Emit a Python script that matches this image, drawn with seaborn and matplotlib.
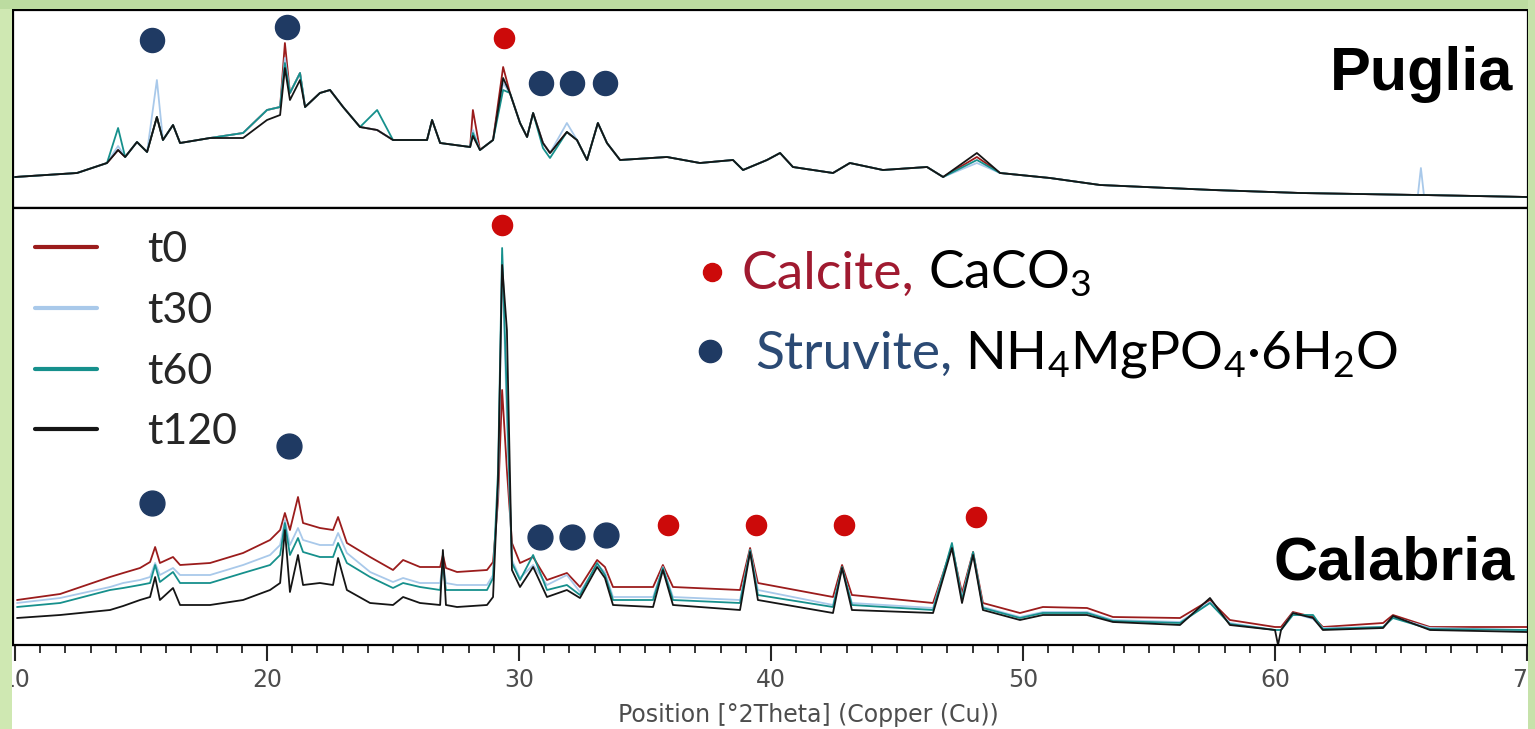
import numpy as np
import pandas as pd
import matplotlib.pyplot as plt
import seaborn as sns
from matplotlib.patches import Rectangle
from matplotlib.lines import Line2D

# ---- data (intensity in arbitrary units) ----
series = ['t0', 't30', 't60', 't120']
colors = {'t0': '#9b1c1c', 't30': '#a9c9ea', 't60': '#16908c', 't120': '#151515'}

# Puglia (top panel)
pug_2theta = [10.0, 12.46, 13.65, 14.09, 14.37, 14.84, 15.24, 15.63, 15.87, 16.27,
              16.55, 17.74, 19.05, 20.0, 20.52, 20.71, 20.91, 21.31, 21.51, 22.10,
              22.50, 23.02, 23.69, 24.37, 25.0, 26.35, 26.55, 26.87, 28.06, 28.17,
              28.45, 28.97, 29.37, 29.64, 30.04, 30.32, 30.56, 30.95, 31.23, 31.90,
              32.30, 32.70, 33.13, 33.49, 34.01, 35.87, 37.18, 38.49, 38.89, 39.84,
              40.36, 40.87, 42.46, 43.13, 44.44, 46.19, 46.83, 48.17, 49.09, 51.07,
              53.06, 57.54, 61.0, 65.67, 65.79, 65.91, 70.0]
pug_t0 = [31, 35, 45, 58, 51, 66, 56, 91, 68, 83,
          65, 70, 75, 98, 101, 165, 115, 135, 101, 115,
          118, 101, 81, 78, 68, 68, 88, 65, 61, 98,
          58, 68, 141, 115, 85, 71, 95, 65, 55, 76,
          68, 48, 85, 65, 48, 51, 45, 48, 38, 48,
          55, 41, 35, 45, 38, 41, 31, 51, 35, 30,
          23, 18, 15, 13, 13, 13, 11]
pug_t30 = [31, 35, 45, 62, 51, 66, 56, 128, 68, 83,
           65, 70, 75, 98, 101, 150, 115, 135, 101, 115,
           118, 101, 81, 78, 68, 68, 88, 65, 61, 78,
           58, 68, 125, 115, 85, 71, 95, 65, 55, 85,
           68, 48, 85, 65, 48, 51, 45, 48, 38, 48,
           55, 41, 35, 45, 38, 41, 31, 45, 35, 30,
           23, 18, 15, 13, 40, 13, 11]
pug_t60 = [31, 35, 45, 80, 51, 66, 56, 91, 68, 83,
           65, 70, 75, 98, 101, 145, 115, 135, 101, 115,
           118, 101, 81, 98, 68, 68, 88, 65, 61, 75,
           58, 68, 118, 115, 85, 71, 95, 60, 50, 76,
           68, 48, 85, 65, 48, 51, 45, 48, 38, 48,
           55, 41, 35, 45, 38, 41, 31, 48, 35, 30,
           23, 18, 15, 13, 13, 13, 11]
pug_t120 = [31, 35, 45, 58, 51, 66, 56, 91, 68, 83,
            65, 70, 70, 88, 93, 140, 108, 128, 101, 115,
            118, 101, 81, 78, 68, 68, 88, 65, 61, 72,
            58, 68, 130, 115, 85, 71, 95, 65, 55, 76,
            68, 48, 85, 65, 48, 51, 45, 48, 38, 48,
            55, 41, 35, 45, 38, 41, 31, 55, 35, 30,
            23, 18, 15, 13, 13, 13, 11]

# Calabria (bottom panel)
cal_2theta = [10.08, 11.79, 13.77, 14.29, 14.96, 15.36, 15.56, 15.75, 16.27, 16.55,
              17.74, 19.05, 20.12, 20.52, 20.71, 20.91, 21.23, 21.43, 22.10, 22.62,
              22.82, 23.17, 24.09, 25.00, 25.40, 26.07, 26.87, 26.98, 27.10, 27.54,
              28.73, 28.97, 29.17, 29.33, 29.52, 29.72, 30.04, 30.56, 31.11, 31.90,
              32.42, 33.10, 33.41, 33.73, 35.32, 35.71, 36.11, 38.77, 39.17, 39.48,
              42.46, 42.82, 43.21, 46.43, 47.18, 47.58, 48.02, 48.41, 49.88, 50.79,
              52.54, 53.57, 56.23, 57.42, 58.21, 60.00, 60.12, 60.24, 60.71, 61.51,
              61.90, 64.29, 64.68, 66.15, 70.00]
cal_t0 = [45, 51, 68, 72, 77, 83, 98, 82, 88, 80,
          82, 92, 105, 115, 132, 115, 148, 122, 117, 115,
          128, 102, 88, 75, 85, 78, 78, 90, 77, 73,
          75, 83, 145, 255, 175, 102, 82, 88, 65, 72,
          58, 85, 78, 58, 58, 80, 58, 55, 97, 62,
          48, 80, 50, 42, 98, 52, 93, 42, 32, 38,
          37, 28, 27, 45, 25, 18, 18, 18, 33, 28,
          18, 22, 30, 18, 18]
cal_t30 = [42, 47, 58, 62, 65, 68, 82, 70, 77, 70,
           70, 80, 90, 100, 125, 100, 117, 105, 100, 100,
           112, 92, 73, 63, 67, 62, 62, 83, 62, 60,
           60, 70, 155, 390, 225, 85, 67, 80, 60, 70,
           53, 80, 73, 48, 48, 78, 48, 45, 95, 55,
           40, 77, 42, 37, 100, 47, 92, 38, 28, 33,
           33, 25, 23, 43, 22, 15, 15, 15, 32, 26,
           17, 18, 28, 17, 15]
cal_t60 = [38, 42, 55, 57, 60, 62, 80, 63, 73, 62,
           62, 72, 80, 90, 122, 90, 107, 93, 88, 88,
           102, 82, 68, 57, 62, 58, 55, 80, 55, 55,
           55, 67, 175, 397, 245, 82, 65, 90, 55, 60,
           50, 82, 70, 45, 45, 77, 45, 42, 95, 50,
           38, 78, 40, 35, 102, 45, 93, 37, 27, 32,
           32, 24, 22, 42, 21, 15, 15, 15, 30, 30,
           16, 18, 27, 16, 15]
cal_t120 = [27, 30, 35, 39, 45, 48, 68, 45, 57, 40,
            40, 45, 55, 62, 115, 53, 90, 60, 62, 60,
            87, 55, 42, 40, 48, 42, 40, 95, 40, 38,
            40, 48, 165, 380, 315, 75, 58, 78, 48, 55,
            47, 78, 67, 40, 38, 75, 40, 35, 93, 45,
            32, 77, 35, 32, 97, 42, 90, 35, 25, 30,
            30, 23, 20, 47, 20, 15, 0, 15, 32, 27,
            15, 17, 29, 15, 13]

# phase markers (position, height)
pug_struvite_x = [15.44, 20.79, 30.87, 32.10, 33.41]
pug_struvite_y = [168, 181, 125, 125, 125]
pug_calcite_x = [29.40]
pug_calcite_y = [170]
cal_struvite_x = [15.44, 20.87, 30.83, 32.10, 33.45]
cal_struvite_y = [142, 199, 108, 108, 110]
cal_calcite_x = [29.33, 35.91, 39.40, 42.90, 48.13]
cal_calcite_y = [420, 120, 120, 120, 128]


def long_frame(x, curves):
    parts = [pd.DataFrame({'pos': x, 'intensity': v, 'sample': k}) for k, v in curves.items()]
    return pd.concat(parts, ignore_index=True)


pug = long_frame(pug_2theta, {'t0': pug_t0, 't30': pug_t30, 't60': pug_t60, 't120': pug_t120})
cal = long_frame(cal_2theta, {'t0': cal_t0, 't30': cal_t30, 't60': cal_t60, 't120': cal_t120})

sns.set_style('white')
plt.rcParams['mathtext.fontset'] = 'custom'
plt.rcParams['mathtext.rm'] = 'Lato'
plt.rcParams['mathtext.it'] = 'Lato:italic'

W, H = 1535, 729
fig = plt.figure(figsize=(W / 100, H / 100), dpi=100)
ax_top = fig.add_axes([13 / W, 1 - 208 / H, (1528 - 13) / W, 198 / H])
ax_bot = fig.add_axes([13 / W, 1 - 645 / H, (1528 - 13) / W, 437 / H], sharex=ax_top)

navy = '#1f3a63'
red_dot = '#cc0a0a'

for ax, df, ymax in [(ax_top, pug, 198), (ax_bot, cal, 437)]:
    sns.lineplot(data=df, x='pos', y='intensity', hue='sample', hue_order=series,
                 palette=colors, estimator=None, sort=False, linewidth=1.3,
                 legend=False, ax=ax)
    ax.set_ylim(0, ymax)
    ax.set_xlim(9.92, 70.04)
    ax.set_ylabel('')
    ax.set_xlabel('')
    ax.set_yticks([])
    for s in ax.spines.values():
        s.set_linewidth(1.6)
        s.set_color('black')

ax_top.scatter(pug_struvite_x, pug_struvite_y, s=300, color=navy, zorder=5, clip_on=False)
ax_top.scatter(pug_calcite_x, pug_calcite_y, s=210, color=red_dot, zorder=5, clip_on=False)
ax_bot.scatter(cal_struvite_x, cal_struvite_y, s=320, color=navy, zorder=5, clip_on=False)
ax_bot.scatter(cal_calcite_x, cal_calcite_y, s=210, color=red_dot, zorder=5, clip_on=False)

ax_top.tick_params(bottom=False, labelbottom=False, left=False)
ax_bot.set_xticks(range(10, 71, 10))
ax_bot.set_xticks(range(10, 71, 1), minor=True)
ax_bot.tick_params(axis='x', which='major', direction='out', length=11.5, width=1.5,
                   labelsize=17, labelcolor='#4d4d4d', pad=5, bottom=True)
ax_bot.tick_params(axis='x', which='minor', direction='out', length=6, width=1.3, bottom=True)
ax_bot.set_xlabel('Position [°2Theta] (Copper (Cu))', fontsize=17, color='#4d4d4d', labelpad=8)
ax_bot.xaxis.label.set_x((808 - 13) / 1515)

# legend for the time series
handles = [Line2D([0], [0], color=colors[s], lw=3) for s in series]
ax_bot.legend(handles, series, loc='upper left', bbox_to_anchor=(35 / W, 1 - 231 / H),
              bbox_transform=fig.transFigure, frameon=False, prop={'family': 'Lato', 'size': 31},
              handlelength=1.45, handletextpad=1.15, labelspacing=0.53, borderpad=0, borderaxespad=0)

# sample names
fig.text(1513 / W, 1 - 90 / H, 'Puglia', ha='right', va='baseline', fontsize=44,
         fontweight='bold', family='Liberation Sans', color='black')
fig.text(1515 / W, 1 - 580 / H, 'Calabria', ha='right', va='baseline', fontsize=44,
         fontweight='bold', family='Liberation Sans', color='black')

# phase key: coloured mineral name followed by its formula
fig.lines.append(Line2D([712 / W], [1 - 272 / H], marker='o', ms=13, color=red_dot,
                        transform=fig.transFigure))
fig.lines.append(Line2D([710 / W], [1 - 351 / H], marker='o', ms=16, color=navy,
                        transform=fig.transFigure))
renderer = fig.canvas.get_renderer()
key_rows = [(742, 289, 'Calcite,', '#a01a30', 'CaCO$_3$'),
            (755, 369, 'Struvite,', '#2b4a74', 'NH$_4$MgPO$_4$·6H$_2$O')]
for x0, yb, name, col, formula in key_rows:
    t = fig.text(x0 / W, 1 - yb / H, name, ha='left', va='baseline', fontsize=38.5,
                 family='Lato', color=col)
    x1 = t.get_window_extent(renderer).x1
    fig.text((x1 + 13) / W, 1 - yb / H, formula, ha='left', va='baseline', fontsize=38.5,
             family='Lato', color='black')

# green slide border
for (x0, y0, w, h, c) in [(0, 0, 12, H, '#cfe8b2'), (0, H - 9, W, 9, '#bcdca0'),
                          (W - 7, 0, 7, H, '#c6e2aa')]:
    fig.patches.append(Rectangle((x0 / W, y0 / H), w / W, h / H, transform=fig.transFigure,
                                 color=c, zorder=10, lw=0))

fig.savefig('out.png', dpi=100)
